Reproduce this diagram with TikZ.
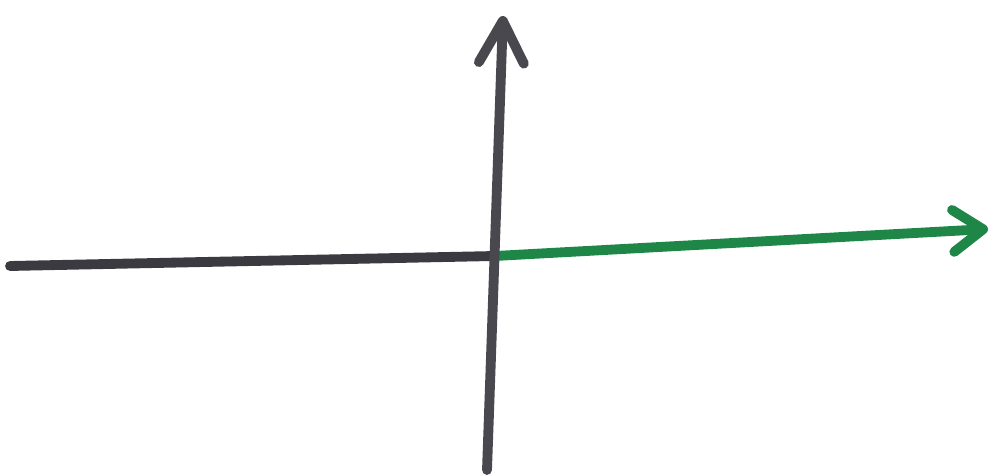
\documentclass[tikz,border=0pt]{standalone}
\usepackage{tikz}
\usetikzlibrary{arrows.meta}
\definecolor{axisgray}{RGB}{72,72,78}
\definecolor{axisdark}{RGB}{58,58,64}
\definecolor{markgreen}{RGB}{30,135,72}

\begin{document}
\begin{tikzpicture}[x=0.02cm,y=-0.02cm,
  pen/.style={line width=5.6pt,line cap=round,line join=round,draw=#1},
  pen/.default=axisgray]
  \useasboundingbox (0,0) rectangle (994,476);
  \coordinate (o) at (495,256);
  \coordinate (ybot) at (487,470);
  \coordinate (ytop) at (503,16);
  \coordinate (xleft) at (10,266);
  \coordinate (xright) at (988,229);
  \draw[pen=axisdark] (xleft) -- (o);
  \draw[pen=markgreen,-{Straight Barb[length=6mm,width=8.4mm,round]}] (o) -- (xright);
  \draw[pen,-{Straight Barb[length=8.4mm,width=9mm,round]}] (ybot) -- (ytop);
\end{tikzpicture}
\end{document}
